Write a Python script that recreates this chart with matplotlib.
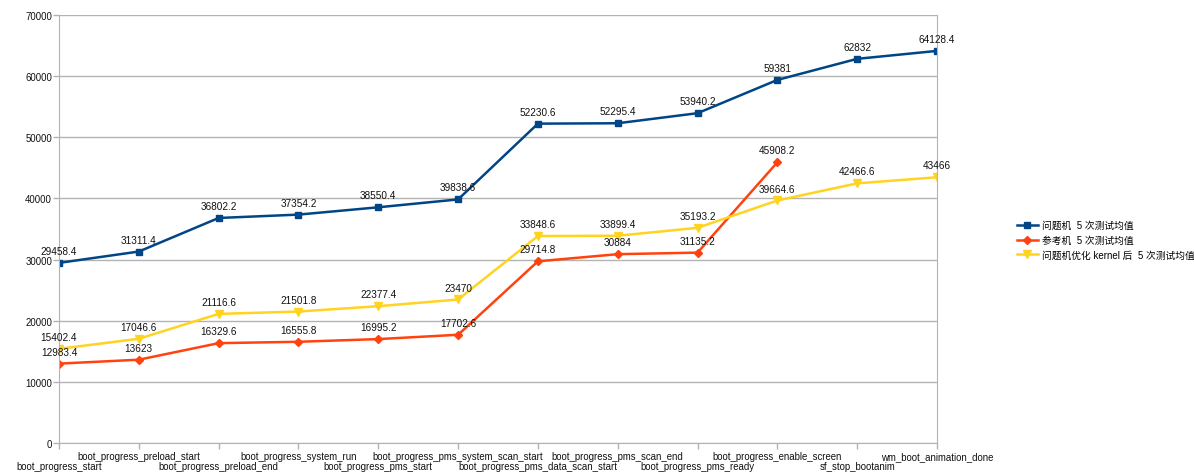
import numpy as np
import matplotlib.pyplot as plt
from matplotlib.transforms import offset_copy

plt.rcParams['font.family'] = ['Liberation Sans', 'Noto Sans CJK SC', 'DejaVu Sans']

# data
stages = ['boot_progress_start', 'boot_progress_preload_start', 'boot_progress_preload_end',
          'boot_progress_system_run', 'boot_progress_pms_start', 'boot_progress_pms_system_scan_start',
          'boot_progress_pms_data_scan_start', 'boot_progress_pms_scan_end', 'boot_progress_pms_ready',
          'boot_progress_enable_screen', 'sf_stop_bootanim', 'wm_boot_animation_done']
problem = [29458.4, 31311.4, 36802.2, 37354.2, 38550.4, 39838.6,
           52230.6, 52295.4, 53940.2, 59381, 62832, 64128.4]
reference = [12983.4, 13623, 16329.6, 16555.8, 16995.2, 17702.6,
             29714.8, 30884, 31135.2, 45908.2]
optimized = [15402.4, 17046.6, 21116.6, 21501.8, 22377.4, 23470,
             33848.6, 33899.4, 35193.2, 39664.6, 42466.6, 43466]
series_names = ['问题机  5 次测试均值', '参考机  5 次测试均值', '问题机优化 kernel 后  5 次测试均值']

fig = plt.figure(figsize=(11.94, 4.77), dpi=100)
ax = fig.add_axes([59/1194, 1-444/477, (937-59)/1194, (444-16)/477])

grid_col = '#b3b3b3'
series = [(problem, '#004586', 's', 5), (reference, '#ff420e', 'D', 4.5), (optimized, '#ffd320', 'v', 6)]
for (vals, col, mk, ms), name in zip(series, series_names):
    x = np.arange(len(vals))
    ax.plot(x, vals, color=col, lw=1.8, marker=mk, ms=ms, label=name)
    for xi, v in zip(x, vals):
        ax.annotate(f'{v:g}', (xi, v), xytext=(0, 5), textcoords='offset points',
                    ha='center', va='bottom', fontsize=7.2, color='#111111')

ax.set_xlim(0, len(stages) - 1)
ax.set_ylim(0, 70000)
ax.set_yticks(np.arange(0, 70001, 10000))
ax.yaxis.grid(True, color=grid_col, lw=1)
ax.set_axisbelow(True)

# staggered category labels: odd ones on the upper row, even ones below
ax.set_xticks(np.arange(len(stages)))
ax.set_xticklabels([s if i % 2 == 1 else '' for i, s in enumerate(stages)])
low = offset_copy(ax.get_xaxis_transform(), fig=fig, x=0, y=-13, units='points')
for i, s in enumerate(stages):
    if i % 2 == 0:
        ax.text(i, 0, s, transform=low, ha='center', va='top', fontsize=6.9, color='#111111')

ax.tick_params(axis='both', colors=grid_col, labelcolor='#111111', labelsize=6.9, length=4, width=1)
ax.tick_params(axis='x', pad=1.5)
ax.tick_params(axis='y', pad=1)
for sp in ['left', 'bottom', 'right']:
    ax.spines[sp].set_color(grid_col)
ax.spines['top'].set_visible(False)

fig.legend(loc='center left', bbox_to_anchor=(1008/1194, 1-241/477), frameon=False,
           fontsize=7, handlelength=2.2, handletextpad=0.4, labelspacing=0.5)

plt.savefig('out.png', dpi=100)
